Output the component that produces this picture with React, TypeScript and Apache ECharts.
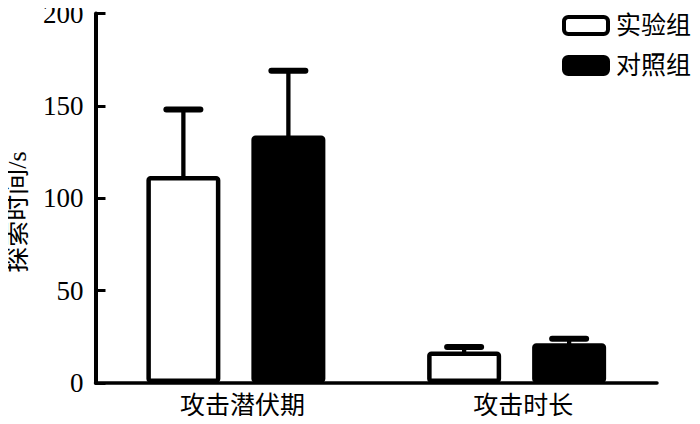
import React, { useEffect, useRef } from "react";
import * as echarts from "echarts";

const categories = ["攻击潜伏期", "攻击时长"];
const seriesNames = ["实验组", "对照组"];
const expValues = [112, 17];
const expErrTop = [148, 19.5];
const ctrlValues = [134, 21.5];
const ctrlErrTop = [169, 24];
const yTicks = { min: 0, max: 200, interval: 50 };
const yAxisTitle = "探索时间/s";

const FONT = "'Liberation Serif', 'Noto Sans CJK SC', serif";
const BAR_W = 74;
const BAR_GAP = 31;

function errorSeries(name: string, vals: number[], tops: number[], side: number) {
  return {
    type: "custom",
    name: name + "误差",
    silent: true,
    z: 5,
    data: vals.map((v, i) => [i, v, tops[i]]),
    renderItem: (params: any, api: any) => {
      const p0 = api.coord([api.value(0), api.value(1)]);
      const p1 = api.coord([api.value(0), api.value(2)]);
      const off = side * (BAR_W / 2 + BAR_GAP / 2);
      const x = p0[0] + off;
      return {
        type: "group",
        children: [
          {
            type: "line",
            shape: { x1: x, y1: p0[1] + 2, x2: x, y2: p1[1] },
            style: { stroke: "#000", lineWidth: 4.3 },
          },
          {
            type: "line",
            shape: { x1: x - 17, y1: p1[1], x2: x + 17, y2: p1[1] },
            style: { stroke: "#000", lineWidth: 6, lineCap: "round" },
          },
        ],
      };
    },
  };
}

export default function App() {
  const ref = useRef<HTMLDivElement>(null);
  useEffect(() => {
    if (!ref.current) return;
    const chart = echarts.init(ref.current, null, { renderer: "svg" });
    chart.setOption({
      animation: false,
      backgroundColor: "#fff",
      grid: { left: 95.5, right: 43, top: 10, bottom: 41, containLabel: false },
      legend: {
        orient: "vertical",
        left: 557,
        top: 8,
        itemWidth: 44,
        itemHeight: 17,
        itemGap: 15,
        textStyle: { fontSize: 25, color: "#000", fontFamily: FONT, padding: [0, 0, 0, 3] },
        data: [
          { name: seriesNames[0], itemStyle: { color: "#fff", borderColor: "#000", borderWidth: 4 } },
          { name: seriesNames[1], itemStyle: { color: "#000", borderColor: "#000", borderWidth: 4 } },
        ],
      },
      xAxis: {
        type: "category",
        data: categories,
        axisLine: { lineStyle: { color: "#000", width: 3.5 } },
        axisTick: { show: false },
        axisLabel: { color: "#000", fontSize: 25, fontFamily: FONT, margin: 10, padding: [0, 0, 0, 13] },
      },
      yAxis: {
        type: "value",
        min: yTicks.min,
        max: yTicks.max,
        interval: yTicks.interval,
        splitLine: { show: false },
        axisLine: { show: true, lineStyle: { color: "#000", width: 4 } },
        axisTick: { show: true, inside: true, length: 10, lineStyle: { color: "#000", width: 3 } },
        axisLabel: { color: "#000", fontSize: 27, fontFamily: FONT, margin: 12 },
      },
      graphic: [
        {
          type: "text",
          x: 17,
          y: 212,
          rotation: Math.PI / 2,
          style: {
            text: yAxisTitle,
            fontSize: 26,
            fontFamily: FONT,
            fill: "#000",
            textAlign: "center",
            textVerticalAlign: "middle",
          },
        },
      ],
      series: [
        {
          type: "bar",
          name: seriesNames[0],
          data: expValues,
          barWidth: BAR_W,
          barGap: (BAR_GAP / BAR_W) * 100 + "%",
          itemStyle: { color: "#fff", borderColor: "#000", borderWidth: 4.5, borderRadius: 2 },
          z: 3,
        },
        {
          type: "bar",
          name: seriesNames[1],
          data: ctrlValues,
          barWidth: BAR_W,
          barGap: (BAR_GAP / BAR_W) * 100 + "%",
          itemStyle: { color: "#000", borderColor: "#000", borderWidth: 4.5, borderRadius: 2 },
          z: 3,
        },
        errorSeries(seriesNames[0], expValues, expErrTop, -1),
        errorSeries(seriesNames[1], ctrlValues, ctrlErrTop, 1),
      ],
    });
    return () => chart.dispose();
  }, []);
  return <div ref={ref} style={{ width: 700, height: 424, margin: -8 }} />;
}
